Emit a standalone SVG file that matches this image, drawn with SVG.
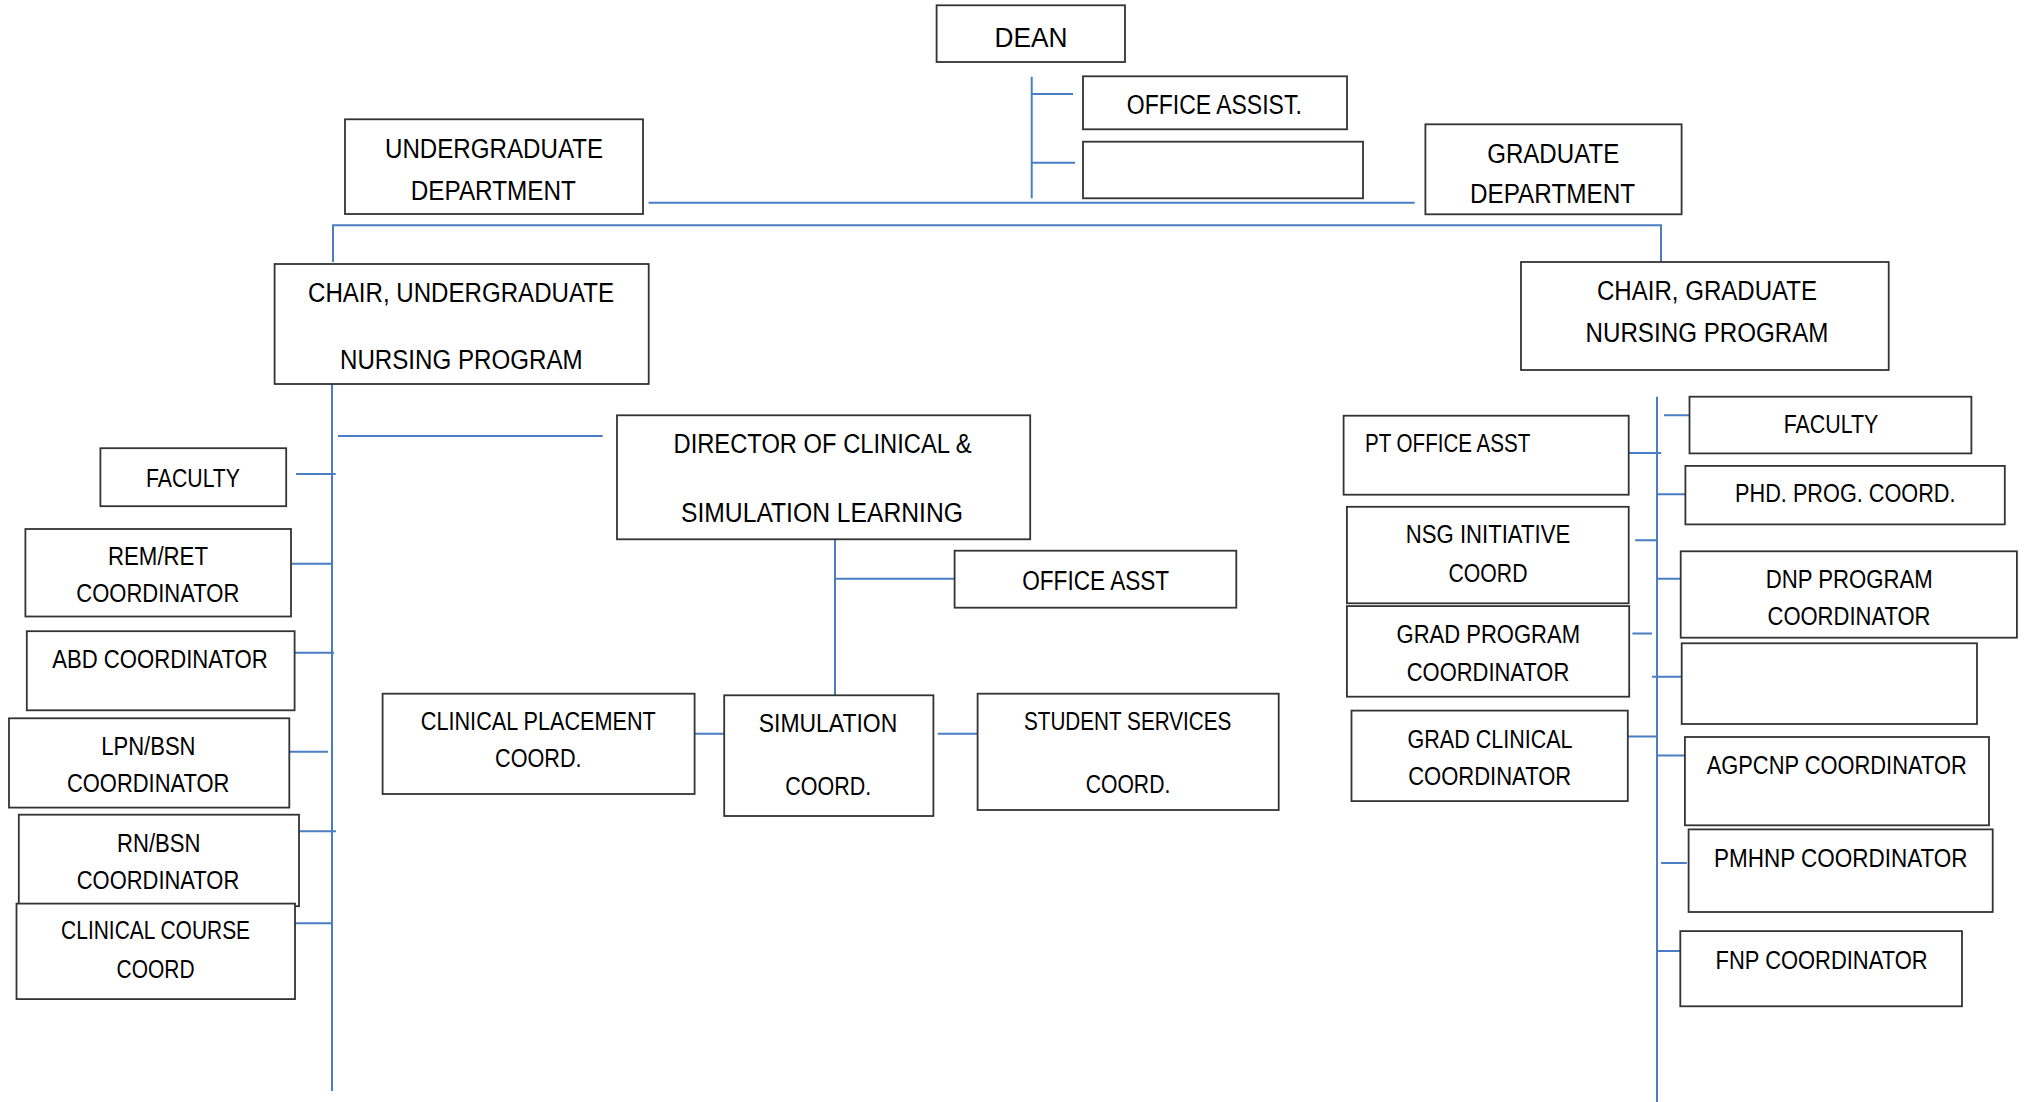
<svg xmlns="http://www.w3.org/2000/svg" width="2028" height="1102" viewBox="0 0 2028 1102">
<style>
.b{fill:#fff;stroke:#333;stroke-width:1.8}
.t{font-family:"Liberation Sans",Arial,sans-serif;font-size:27px;fill:#000;text-anchor:middle}
.s{font-size:25.5px}
.c{stroke:#4a7ec4;stroke-width:2;fill:none}
</style>
<rect width="2028" height="1102" fill="#fff"/>
<g id="connectors" class="c">
<path d="M1031.7 76.7V198.3M1032 94H1073M1032 162.7H1075"/>
<path d="M648.6 202.7H1414.7"/>
<path d="M333 262V225.3H1661V262"/>
<path d="M332 384V1091"/>
<path d="M338 436H602.7M296 474.1H335.7M291 563.8H333M294.6 652.7H334M289 751.8H328M297 831.2H336M292 923.2H332"/>
<path d="M835 539.3V695M835 578.7H954.6M690.4 733.7H729.7M937.7 733.7H977"/>
<path d="M1657 396.7V1102"/>
<path d="M1664 415.3H1689.5M1628.7 452.9H1661.2M1657 494.2H1685M1635.2 540.2H1657M1632.4 633.5H1652M1657 578.7H1683M1652 676.7H1681.7M1627.8 736.6H1657M1657 755.6H1684.9M1661.2 862.9H1686.8M1657 951.1H1680"/>
</g>
<g id="dean"><rect class="b" x="936.6" y="5.3" width="188.4" height="56.7"/><text class="t" x="1031" y="46.5" textLength="73" lengthAdjust="spacingAndGlyphs">DEAN</text></g>
<g id="office-assist-dean"><rect class="b" x="1083" y="76.3" width="264" height="53"/><text class="t" x="1214.3" y="114.3" textLength="175" lengthAdjust="spacingAndGlyphs">OFFICE ASSIST.</text></g>
<g id="blank-dean"><rect class="b" x="1083" y="141.7" width="280" height="56.6"/></g>
<g id="ug-dept"><rect class="b" x="345" y="119.3" width="298" height="94.7"/><text class="t" x="494" y="158.3" textLength="218" lengthAdjust="spacingAndGlyphs">UNDERGRADUATE</text><text class="t" x="493.3" y="200" textLength="165" lengthAdjust="spacingAndGlyphs">DEPARTMENT</text></g>
<g id="grad-dept"><rect class="b" x="1425.4" y="124.3" width="256.2" height="90"/><text class="t" x="1553.2" y="163.3" textLength="132" lengthAdjust="spacingAndGlyphs">GRADUATE</text><text class="t" x="1552.5" y="203.3" textLength="165" lengthAdjust="spacingAndGlyphs">DEPARTMENT</text></g>
<g id="chair-ug"><rect class="b" x="274.6" y="264" width="374.1" height="120"/><text class="t" x="461" y="301.7" textLength="306" lengthAdjust="spacingAndGlyphs">CHAIR, UNDERGRADUATE</text><text class="t" x="461.3" y="369.3" textLength="242.6" lengthAdjust="spacingAndGlyphs">NURSING PROGRAM</text></g>
<g id="chair-grad"><rect class="b" x="1521" y="262" width="367.7" height="108"/><text class="t" x="1707" y="300" textLength="220" lengthAdjust="spacingAndGlyphs">CHAIR, GRADUATE</text><text class="t" x="1707" y="341.7" textLength="243" lengthAdjust="spacingAndGlyphs">NURSING PROGRAM</text></g>
<g id="director"><rect class="b" x="617" y="415.3" width="413.2" height="124"/><text class="t" x="822.5" y="453.3" textLength="298" lengthAdjust="spacingAndGlyphs">DIRECTOR OF CLINICAL &amp;</text><text class="t" x="822" y="521.7" textLength="282" lengthAdjust="spacingAndGlyphs">SIMULATION LEARNING</text></g>
<g id="office-asst-dir"><rect class="b" x="954.6" y="550.7" width="281.7" height="57"/><text class="t" x="1095.7" y="590" textLength="147" lengthAdjust="spacingAndGlyphs">OFFICE ASST</text></g>
<g id="clinical-placement"><rect class="b" x="382.6" y="693.7" width="312" height="100.3"/><text class="t s" x="538.3" y="730" textLength="235" lengthAdjust="spacingAndGlyphs">CLINICAL PLACEMENT</text><text class="t s" x="538.3" y="766.7" textLength="86.6" lengthAdjust="spacingAndGlyphs">COORD.</text></g>
<g id="simulation"><rect class="b" x="724.2" y="695.3" width="209.2" height="120.7"/><text class="t s" x="828" y="731.7" textLength="138.5" lengthAdjust="spacingAndGlyphs">SIMULATION</text><text class="t s" x="828.2" y="795" textLength="86" lengthAdjust="spacingAndGlyphs">COORD.</text></g>
<g id="student-services"><rect class="b" x="977.6" y="693.7" width="301.1" height="116.3"/><text class="t s" x="1127.7" y="730" textLength="207.5" lengthAdjust="spacingAndGlyphs">STUDENT SERVICES</text><text class="t s" x="1128" y="793.3" textLength="84.6" lengthAdjust="spacingAndGlyphs">COORD.</text></g>
<g id="faculty-ug"><rect class="b" x="100.4" y="448.2" width="185.8" height="58"/><text class="t s" x="193" y="486.5" textLength="94" lengthAdjust="spacingAndGlyphs">FACULTY</text></g>
<g id="rem-ret"><rect class="b" x="25.4" y="529" width="265.6" height="87.5"/><text class="t s" x="158" y="565.2" textLength="100" lengthAdjust="spacingAndGlyphs">REM/RET</text><text class="t s" x="157.8" y="601.8" textLength="163" lengthAdjust="spacingAndGlyphs">COORDINATOR</text></g>
<g id="abd"><rect class="b" x="26.8" y="631.2" width="267.8" height="79.1"/><text class="t s" x="160" y="667.8" textLength="215.6" lengthAdjust="spacingAndGlyphs">ABD COORDINATOR</text></g>
<g id="lpn-bsn"><rect class="b" x="9" y="718.3" width="280.3" height="89.3"/><text class="t s" x="148.4" y="755" textLength="94.2" lengthAdjust="spacingAndGlyphs">LPN/BSN</text><text class="t s" x="148.2" y="791.5" textLength="162.5" lengthAdjust="spacingAndGlyphs">COORDINATOR</text></g>
<g id="rn-bsn"><rect class="b" x="18.8" y="814.7" width="280.2" height="91.5"/><text class="t s" x="158.7" y="851.8" textLength="83.4" lengthAdjust="spacingAndGlyphs">RN/BSN</text><text class="t s" x="158" y="889.3" textLength="162.5" lengthAdjust="spacingAndGlyphs">COORDINATOR</text></g>
<g id="clinical-course"><rect class="b" x="16.5" y="903.6" width="278.5" height="95.5"/><text class="t s" x="155.6" y="939.3" textLength="189" lengthAdjust="spacingAndGlyphs">CLINICAL COURSE</text><text class="t s" x="155.6" y="977.7" textLength="78" lengthAdjust="spacingAndGlyphs">COORD</text></g>
<g id="pt-office-asst"><rect class="b" x="1343.6" y="415.7" width="285.1" height="79"/><text class="t s" x="1365" y="452" style="text-anchor:start" textLength="165.3" lengthAdjust="spacingAndGlyphs">PT OFFICE ASST</text></g>
<g id="nsg-initiative"><rect class="b" x="1346.9" y="506.8" width="281.8" height="96.5"/><text class="t s" x="1488" y="543.4" textLength="164.3" lengthAdjust="spacingAndGlyphs">NSG INITIATIVE</text><text class="t s" x="1488" y="581.5" textLength="79" lengthAdjust="spacingAndGlyphs">COORD</text></g>
<g id="grad-program"><rect class="b" x="1346.9" y="606.1" width="282.3" height="90.6"/><text class="t s" x="1488.3" y="642.8" textLength="183.4" lengthAdjust="spacingAndGlyphs">GRAD PROGRAM</text><text class="t s" x="1488" y="680.9" textLength="162.5" lengthAdjust="spacingAndGlyphs">COORDINATOR</text></g>
<g id="grad-clinical"><rect class="b" x="1351.5" y="710.6" width="276.3" height="90.5"/><text class="t s" x="1490" y="747.7" textLength="165" lengthAdjust="spacingAndGlyphs">GRAD CLINICAL</text><text class="t s" x="1489.7" y="785.3" textLength="163" lengthAdjust="spacingAndGlyphs">COORDINATOR</text></g>
<g id="faculty-grad"><rect class="b" x="1689.5" y="396.7" width="281.9" height="56.7"/><text class="t s" x="1831" y="432.8" textLength="94.7" lengthAdjust="spacingAndGlyphs">FACULTY</text></g>
<g id="phd"><rect class="b" x="1685.4" y="465.9" width="319.4" height="58.5"/><text class="t s" x="1845.3" y="502.1" textLength="220.5" lengthAdjust="spacingAndGlyphs">PHD. PROG. COORD.</text></g>
<g id="dnp"><rect class="b" x="1680.7" y="551.3" width="336.2" height="86.4"/><text class="t s" x="1849.2" y="588" textLength="167" lengthAdjust="spacingAndGlyphs">DNP PROGRAM</text><text class="t s" x="1849" y="625.2" textLength="163" lengthAdjust="spacingAndGlyphs">COORDINATOR</text></g>
<g id="blank-grad"><rect class="b" x="1681.7" y="643.3" width="295.3" height="80.7"/></g>
<g id="agpcnp"><rect class="b" x="1684.9" y="737" width="304.1" height="88.3"/><text class="t s" x="1836.7" y="773.7" textLength="260" lengthAdjust="spacingAndGlyphs">AGPCNP COORDINATOR</text></g>
<g id="pmhnp"><rect class="b" x="1688.6" y="829.4" width="304.1" height="82.6"/><text class="t s" x="1840.8" y="866.6" textLength="253.5" lengthAdjust="spacingAndGlyphs">PMHNP COORDINATOR</text></g>
<g id="fnp"><rect class="b" x="1680.3" y="931.1" width="281.7" height="75.2"/><text class="t s" x="1821.6" y="968.7" textLength="212" lengthAdjust="spacingAndGlyphs">FNP COORDINATOR</text></g>
</svg>
